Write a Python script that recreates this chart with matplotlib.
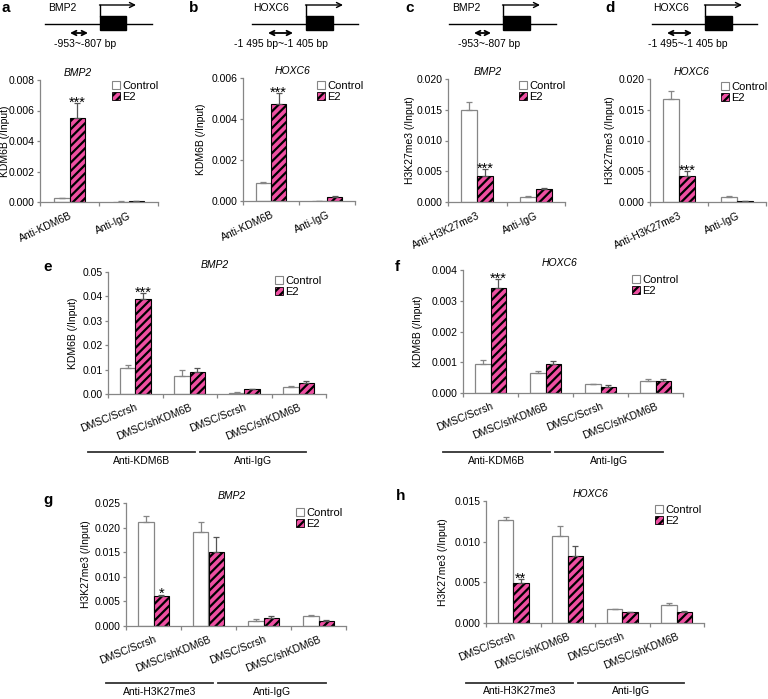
"""ChIP-qPCR bar panels (KDM6B / H3K27me3 at BMP2 and HOXC6)."""
import numpy as np
import matplotlib
matplotlib.use("Agg")
import matplotlib.pyplot as plt
from matplotlib.patches import Patch, Rectangle
from matplotlib.ticker import FormatStrFormatter
import matplotlib.transforms as mtransforms

plt.rcParams["font.family"] = ["Liberation Sans", "DejaVu Sans"]
plt.rcParams["hatch.linewidth"] = 1.6
plt.rcParams["hatch.color"] = "black"

W, H = 768, 699
PINK = "#ee4fa2"
AXC = "#868686"
FS = 7.5

# ---- data -------------------------------------------------------------
CAT_AB = ["Anti-KDM6B", "Anti-IgG"]
CAT_CD = ["Anti-H3K27me3", "Anti-IgG"]
CAT_EH = ["DMSC/Scrsh", "DMSC/shKDM6B", "DMSC/Scrsh", "DMSC/shKDM6B"]
GROUP_EF = ["Anti-KDM6B", "Anti-IgG"]
GROUP_GH = ["Anti-H3K27me3", "Anti-IgG"]

a_ctrl = [0.00026, 0.00003]
a_ctrl_err = [0.00002, 0.00001]
a_e2 = [0.00554, 0.00004]
a_e2_err = [0.00092, 0.00001]
a_stars = ["***", ""]

b_ctrl = [0.00087, 0.00001]
b_ctrl_err = [0.00004, 0.0]
b_e2 = [0.00472, 0.00020]
b_e2_err = [0.00054, 0.00004]
b_stars = ["***", ""]

c_ctrl = [0.0149, 0.0008]
c_ctrl_err = [0.0013, 0.0001]
c_e2 = [0.0042, 0.0021]
c_e2_err = [0.0011, 0.0001]
c_stars = ["***", ""]

d_ctrl = [0.0167, 0.0008]
d_ctrl_err = [0.0013, 0.0001]
d_e2 = [0.0042, 0.0001]
d_e2_err = [0.0008, 0.0]
d_stars = ["***", ""]

e_ctrl = [0.0107, 0.0074, 0.0005, 0.0030]
e_ctrl_err = [0.0012, 0.0026, 0.0002, 0.0003]
e_e2 = [0.0388, 0.0090, 0.0019, 0.0045]
e_e2_err = [0.0025, 0.0015, 0.0002, 0.0008]
e_stars = ["***", "", "", ""]

f_ctrl = [0.00095, 0.00065, 0.00028, 0.00040]
f_ctrl_err = [0.00011, 0.00005, 0.00002, 0.00006]
f_e2 = [0.00340, 0.00093, 0.00019, 0.00040]
f_e2_err = [0.00030, 0.00012, 0.00008, 0.00005]
f_stars = ["***", "", "", ""]

g_ctrl = [0.0211, 0.0192, 0.0010, 0.0020]
g_ctrl_err = [0.0012, 0.0019, 0.0004, 0.0002]
g_e2 = [0.0060, 0.0150, 0.0016, 0.0010]
g_e2_err = [0.0004, 0.0030, 0.0004, 0.0002]
g_stars = ["*", "", "", ""]

h_ctrl = [0.0127, 0.0107, 0.0017, 0.0022]
h_ctrl_err = [0.0003, 0.0012, 0.00005, 0.0003]
h_e2 = [0.0049, 0.0082, 0.0013, 0.0014]
h_e2_err = [0.0005, 0.0013, 0.0001, 0.0001]
h_stars = ["**", "", "", ""]

fig = plt.figure(figsize=(W / 100, H / 100), dpi=100)


def px_rect(x0, x1, y0, y1):
    return [x0 / W, 1 - y1 / H, (x1 - x0) / W, (y1 - y0) / H]


def bar_panel(rect, cats, ctrl, ctrl_err, e2, e2_err, stars, ymax, ystep,
              fmt, ylabel, ylabel_x, title, title_x, leg_xy, rot, width):
    ax = fig.add_axes(px_rect(*rect))
    n = len(cats)
    x = np.arange(n) + 0.5
    zeros = np.zeros(n)
    ax.bar(x - width / 2, ctrl, width, color="white", edgecolor=AXC, lw=0.9,
           yerr=[zeros, ctrl_err], zorder=2,
           error_kw=dict(ecolor=AXC, capsize=2.2, elinewidth=0.9, capthick=0.9))
    ax.bar(x + width / 2, e2, width, color=PINK, edgecolor="black", lw=0.8,
           hatch="////", yerr=[zeros, e2_err], zorder=2,
           error_kw=dict(ecolor="#555555", capsize=2.2, elinewidth=0.9, capthick=0.9))
    for xi, v, e, s in zip(x, e2, e2_err, stars):
        if s:
            ax.annotate(s, (xi + width / 2, v + e), xytext=(0, -2.5),
                        textcoords="offset points", ha="center", va="baseline",
                        fontsize=10.5)
    ax.set_xlim(0, n)
    ax.set_ylim(0, ymax)
    ax.set_xticks(np.arange(n + 1))
    ax.set_xticklabels([])
    ax.set_xticks(x, minor=True)
    ax.set_xticklabels(cats, minor=True, rotation=rot, ha="right",
                       rotation_mode="anchor", fontsize=FS)
    ax.tick_params(axis="x", which="minor", length=0, pad=6)
    ax.tick_params(axis="x", which="major", length=3, color=AXC, width=0.9)
    ax.set_yticks(np.arange(0, ymax + ystep / 2, ystep))
    ax.yaxis.set_major_formatter(FormatStrFormatter(fmt))
    ax.tick_params(axis="y", length=2.5, color=AXC, width=0.9, labelsize=FS,
                   pad=1.5)
    for side in ("top", "right"):
        ax.spines[side].set_visible(False)
    for side in ("left", "bottom"):
        ax.spines[side].set_color(AXC)
        ax.spines[side].set_linewidth(0.9)
    fig.text(ylabel_x / W, 1 - (rect[2] + rect[3]) / 2 / H, ylabel,
             rotation=90, ha="center", va="center", fontsize=FS)
    ax.text(title_x, 1.02, title, transform=ax.transAxes, ha="center",
            va="bottom", style="italic", fontsize=FS)
    handles = [Patch(facecolor="white", edgecolor=AXC, lw=0.8),
               Patch(facecolor=PINK, edgecolor="black", hatch="////", lw=0.6)]
    ax.legend(handles, ["Control", "E2"], loc="upper left",
              bbox_to_anchor=(leg_xy[0] / W, 1 - leg_xy[1] / H),
              bbox_transform=fig.transFigure, frameon=False, fontsize=8,
              handlelength=0.7, handleheight=0.7, handletextpad=0.2,
              labelspacing=0.1, borderpad=0, borderaxespad=0)
    return ax


def groups(ax, names, yfrac):
    trans = mtransforms.blended_transform_factory(ax.transData, ax.transAxes)
    spans = [(-0.36, 1.59), (1.68, 3.63)]
    for (x0, x1), name in zip(spans, names):
        ax.plot([x0, x1], [yfrac, yfrac], color="#333333", lw=1.3,
                transform=trans, clip_on=False)
        ax.text((x0 + x1) / 2, yfrac - 0.03, name, transform=trans,
                ha="center", va="top", fontsize=FS)


# top row
bar_panel((40, 158, 80, 202), CAT_AB, a_ctrl, a_ctrl_err, a_e2, a_e2_err,
          a_stars, 0.008, 0.002, "%.3f", "KDM6B (/Input)", 5, "BMP2", 0.32,
          (112, 81), 25, 0.27)
bar_panel((243, 355, 78, 201), CAT_AB, b_ctrl, b_ctrl_err, b_e2, b_e2_err,
          b_stars, 0.006, 0.002, "%.3f", "KDM6B (/Input)", 201, "HOXC6", 0.44,
          (317, 81), 25, 0.27)
bar_panel((448, 565, 79, 202), CAT_CD, c_ctrl, c_ctrl_err, c_e2, c_e2_err,
          c_stars, 0.020, 0.005, "%.3f", "H3K27me3 (/Input)", 410, "BMP2", 0.34,
          (519, 81), 25, 0.27)
bar_panel((650, 766, 79, 202), CAT_CD, d_ctrl, d_ctrl_err, d_e2, d_e2_err,
          d_stars, 0.020, 0.005, "%.3f", "H3K27me3 (/Input)", 610, "HOXC6", 0.36,
          (721, 82), 25, 0.27)

# middle row
ax_e = bar_panel((108, 326, 272, 394), CAT_EH, e_ctrl, e_ctrl_err, e_e2,
                 e_e2_err, e_stars, 0.05, 0.01, "%.2f", "KDM6B (/Input)", 73,
                 "BMP2", 0.49, (275, 276), 22, 0.28)
ax_f = bar_panel((463, 683, 270, 393), CAT_EH, f_ctrl, f_ctrl_err, f_e2,
                 f_e2_err, f_stars, 0.004, 0.001, "%.3f", "KDM6B (/Input)", 418,
                 "HOXC6", 0.44, (632, 275), 22, 0.28)
groups(ax_e, GROUP_EF, -0.475)
groups(ax_f, GROUP_EF, -0.48)

# bottom row
ax_g = bar_panel((126, 346, 503, 626), CAT_EH, g_ctrl, g_ctrl_err, g_e2,
                 g_e2_err, g_stars, 0.025, 0.005, "%.3f", "H3K27me3 (/Input)", 86,
                 "BMP2", 0.48, (296, 508), 22, 0.28)
ax_h = bar_panel((486, 704, 501, 623), CAT_EH, h_ctrl, h_ctrl_err, h_e2,
                 h_e2_err, h_stars, 0.015, 0.005, "%.3f", "H3K27me3 (/Input)", 443,
                 "HOXC6", 0.48, (655, 505), 22, 0.28)
groups(ax_g, GROUP_GH, -0.463)
groups(ax_h, GROUP_GH, -0.49)

# overlay: panel letters and promoter schematics (pixel coordinates)
ov = fig.add_axes([0, 0, 1, 1])
ov.set_xlim(0, W)
ov.set_ylim(H, 0)
ov.axis("off")
ov.patch.set_visible(False)

for letter, lx, ly in [("a", 6, 8), ("b", 194, 8), ("c", 410, 8), ("d", 610, 8),
                       ("e", 48, 267), ("f", 397, 267), ("g", 48, 500),
                       ("h", 401, 496)]:
    ov.text(lx, ly, letter, fontsize=11, fontweight="bold", ha="center",
            va="center")

schemes = [
    # name, name_x, line, box, arrow_end, double arrow, region text, text_x
    ("BMP2", 48, (45, 152), (100, 126), 136, (70, 88), "-953~-807 bp", 85),
    ("HOXC6", 253, (252, 358), (306, 333), 343, (268, 293),
     "-1 495 bp~-1 405 bp", 281),
    ("BMP2", 452, (449, 556), (503, 530), 540, (474, 491), "-953~-807 bp", 489),
    ("HOXC6", 653, (652, 757), (705, 732), 742, (667, 692),
     "-1 495~-1 405 bp", 688),
]
for name, nx, (l0, l1), (b0, b1), aend, (d0, d1), reg, tx in schemes:
    ov.plot([l0, l1], [24, 24], color="black", lw=1.0)
    ov.add_patch(Rectangle((b0, 16), b1 - b0, 14, facecolor="black",
                           edgecolor="black"))
    ov.plot([b0, b0], [16, 5], color="black", lw=1.0)
    ov.annotate("", xy=(aend, 5), xytext=(b0 - 0.5, 5),
                arrowprops=dict(arrowstyle="->", lw=1.0, color="black",
                                shrinkA=0, shrinkB=0, mutation_scale=9))
    ov.annotate("", xy=(d1, 33), xytext=(d0, 33),
                arrowprops=dict(arrowstyle="<->", lw=1.3, color="black",
                                shrinkA=0, shrinkB=0, mutation_scale=8))
    ov.text(nx, 8, name, fontsize=FS, ha="left", va="center")
    ov.text(tx, 44, reg, fontsize=FS, ha="center", va="center")

fig.savefig("out.png", dpi=100)
